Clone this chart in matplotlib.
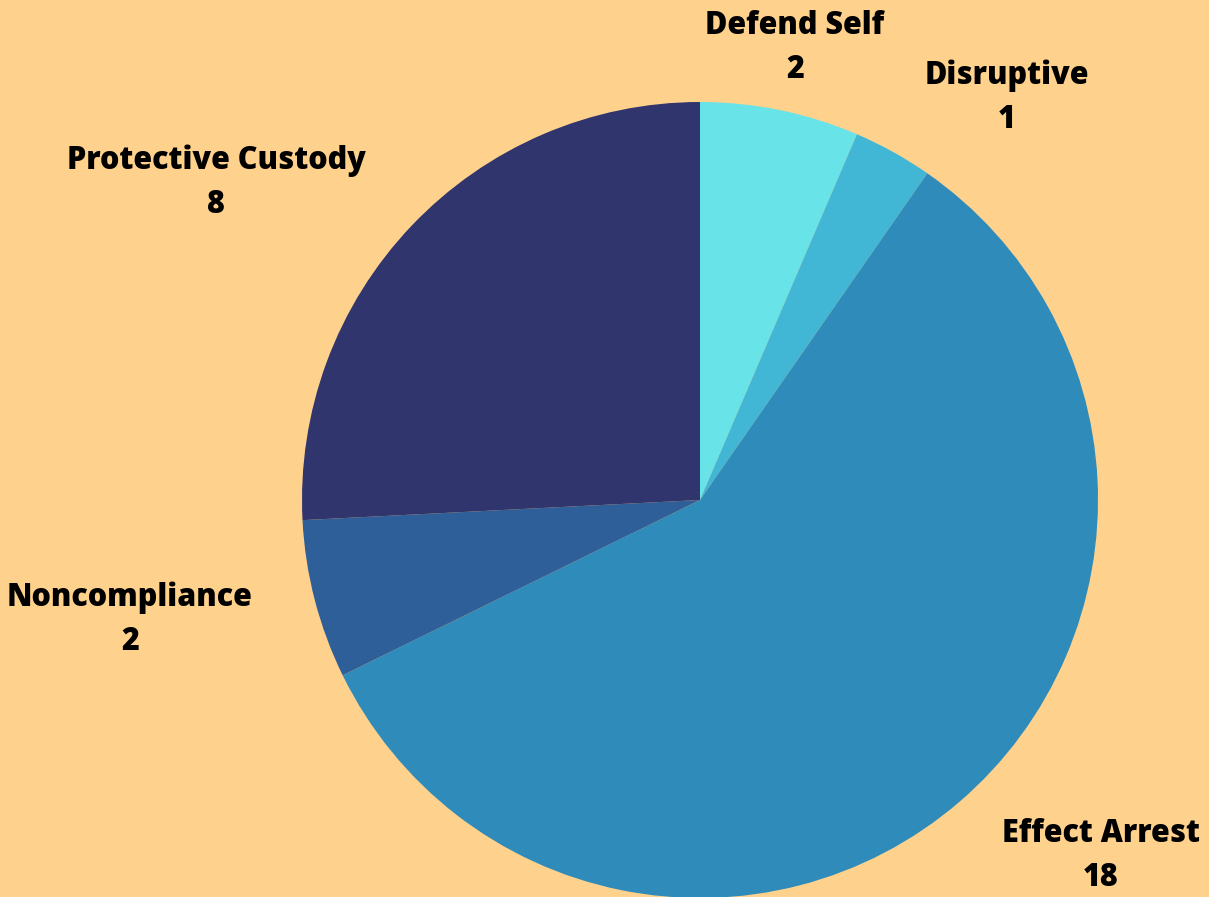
import matplotlib
matplotlib.use("Agg")
import matplotlib.pyplot as plt

# Use-of-force reasons and counts
categories = ["Defend Self", "Disruptive", "Effect Arrest", "Noncompliance", "Protective Custody"]
counts = [2, 1, 18, 2, 8]
colors = ["#68E3E8", "#42B6D5", "#2E8BBA", "#2E5F98", "#31356D"]
# Label anchor centres in figure pixels (x, y from top)
label_pos = [(795, 48), (1007, 98), (1101, 856), (130, 620), (216, 183)]

W, H = 1209, 897
bg = "#FED18C"
fig = plt.figure(figsize=(W / 100, H / 100), dpi=100, facecolor=bg)

cx, cy, r = 700, 500, 398
ax = fig.add_axes([(cx - r) / W, (H - cy - r) / H, 2 * r / W, 2 * r / H])
ax.set_xlim(-1, 1)
ax.set_ylim(-1, 1)
ax.axis("off")
ax.set_facecolor(bg)

ax.pie(counts, colors=colors, startangle=90, counterclock=False, radius=1,
       wedgeprops=dict(linewidth=0))
ax.set_xlim(-1, 1)
ax.set_ylim(-1, 1)

for name, val, (px, py) in zip(categories, counts, label_pos):
    fig.text(px / W, 1 - py / H, f"{name}\n{val}", ha="center", va="center",
             fontsize=22, fontweight="heavy", family=["Open Sans", "DejaVu Sans"],
             linespacing=1.5, color="black")

fig.savefig("out.png", dpi=100, facecolor=bg)
